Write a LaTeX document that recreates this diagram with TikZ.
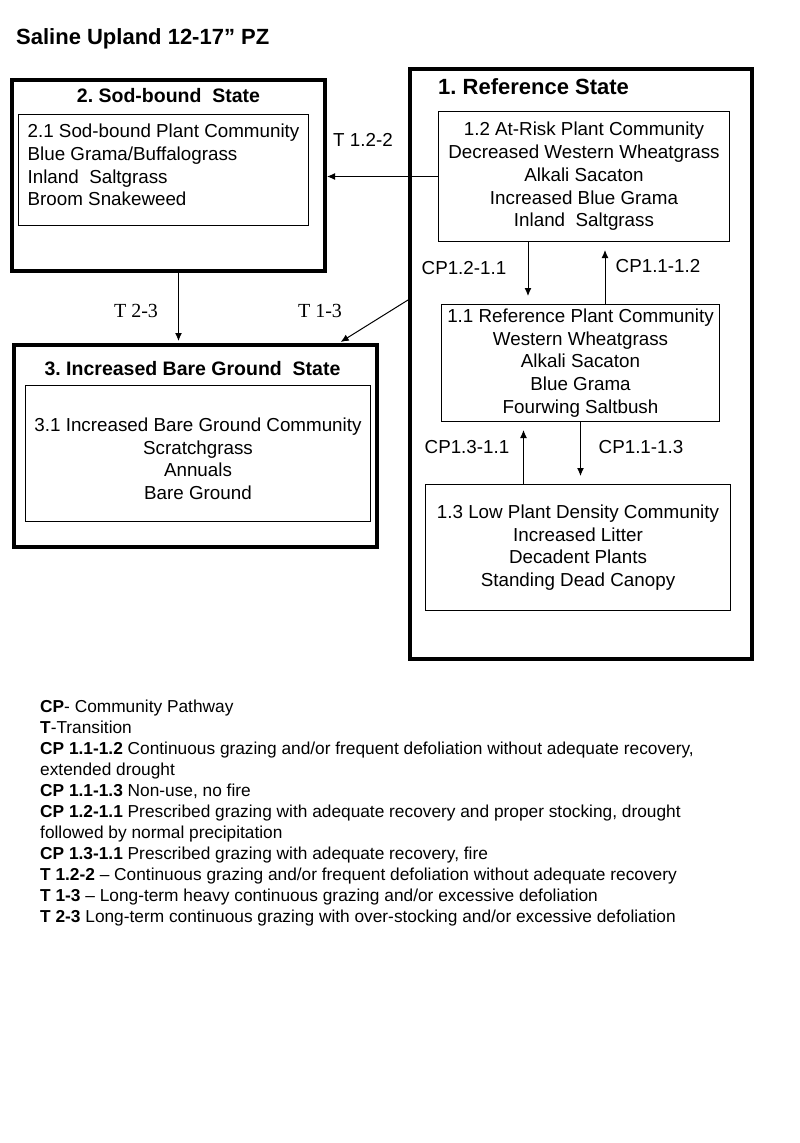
\documentclass[tikz,border=0pt]{standalone}
\usepackage{fontspec}
\setmainfont{Liberation Sans}
\newfontfamily\timesf{Liberation Serif}
\usetikzlibrary{arrows.meta,positioning}
\frenchspacing
\tikzset{statebox/.style={draw,line width=4pt,inner sep=0pt,anchor=north west},
  commbox/.style={draw,line width=1pt,inner sep=0pt,anchor=north west,align=center,font=\fontsize{18.8}{22.7}\selectfont},
  hd/.style={inner sep=0pt,font=\fontsize{19.5}{23}\selectfont\bfseries},
  lab/.style={inner sep=0pt,font=\fontsize{18.8}{22.7}\selectfont},
  tlab/.style={inner sep=0pt,font=\fontsize{20}{24}\timesf},
  arr/.style={-{Latex[length=8pt,width=7pt]},line width=1pt}}
\begin{document}
\begin{tikzpicture}[x=1pt,y=-1pt]
    \fill[white] (0,0) rectangle (800,1143);
    \useasboundingbox (0,0) rectangle (800,1143);
    \node[hd,anchor=base west,font=\fontsize{22}{26}\selectfont\bfseries] (ttl) at (16,44) {Saline Upland 12-17” PZ};
    \node[statebox,minimum width=313pt,minimum height=191pt] (s2) at (10,78) {};
    \node[statebox,minimum width=342pt,minimum height=590pt] (s1) at (408,67) {};
    \node[statebox,minimum width=363pt,minimum height=202pt] (s3) at (12,343) {};
    \node[hd,anchor=base] (s2t) at ([yshift=-24pt]s2.north) {2. Sod-bound\ \ State};
    \node[hd,anchor=base] (s3t) at ([xshift=-3pt,yshift=-32pt]s3.north) {3. Increased Bare Ground\ \ State};
    \node[commbox,minimum width=290pt,minimum height=111pt,align=left,text depth=10pt] (c21) at (18,114)
        {2.1 Sod-bound Plant Community\\Blue Grama/Buffalograss\\Inland\ \ Saltgrass\\Broom Snakeweed};
    \node[commbox,minimum width=291pt,minimum height=130pt] (c12) at (438,111)
        {1.2 At-Risk Plant Community\\Decreased Western Wheatgrass\\Alkali Sacaton\\Increased Blue Grama\\Inland\ \ Saltgrass};
    \node[hd,anchor=base west,font=\fontsize{22}{26}\selectfont\bfseries] (s1t) at ([yshift=17pt]c12.north west) {1. Reference State};
    \node[commbox,minimum width=278pt,minimum height=117pt] (c11) at (441,304)
        {1.1 Reference Plant Community\\Western Wheatgrass\\Alkali Sacaton\\Blue Grama\\Fourwing Saltbush};
    \node[commbox,minimum width=305pt,minimum height=126pt] (c13) at (425,484)
        {1.3 Low Plant Density Community\\Increased Litter\\Decadent Plants\\Standing Dead Canopy};
    \node[commbox,minimum width=345pt,minimum height=136pt,text height=92pt] (c31) at (25,385)
        {3.1 Increased Bare Ground Community\\Scratchgrass\\Annuals\\Bare Ground};
    \draw[arr] (c12.west) -- (c12.west -| s2.east);
    \draw[arr,shorten >=8pt] ([xshift=-56pt]c12.south) -- ([xshift=-56pt]c12.south |- c11.north);
    \draw[arr,shorten >=8pt] ([xshift=21pt]c12.south |- c11.north) -- ([xshift=21pt]c12.south);
    \draw[arr,shorten >=8pt] ([xshift=-57pt]c11.south |- c13.north) -- ([xshift=-57pt]c11.south);
    \draw[arr,shorten >=8pt] (c11.south) -- (c11.south |- c13.north);
    \draw[arr,shorten >=2pt] ([xshift=10pt]s2.south) -- ([xshift=10pt]s2.south |- s3.north);
    \draw[arr,shorten >=2pt] ([yshift=64pt]s1.west) -- ([xshift=-40pt]s3.north east);
    \node[lab] (l122) at (363,140) {T 1.2-2};
    \node[lab] (l1211) at (464,268) {CP1.2-1.1};
    \node[lab] (l1112) at (658,266) {CP1.1-1.2};
    \node[lab] (l1311) at (467,447) {CP1.3-1.1};
    \node[lab] (l1113) at (641,447) {CP1.1-1.3};
    \node[tlab] (l23) at (136,311) {T 2-3};
    \node[tlab] (l13) at (320,311) {T 1-3};
    \node[anchor=north west,inner sep=0pt,align=left,font=\fontsize{17.3}{21}\selectfont] (key) at (40,700)
        {\textbf{CP}- Community Pathway\\
         \textbf{T}-Transition\\
         \textbf{CP 1.1-1.2} Continuous grazing and/or frequent defoliation without adequate recovery,\\
         extended drought\\
         \textbf{CP 1.1-1.3} Non-use, no fire\\
         \textbf{CP 1.2-1.1} Prescribed grazing with adequate recovery and proper stocking, drought\\
         followed by normal precipitation\\
         \textbf{CP 1.3-1.1} Prescribed grazing with adequate recovery, fire\\
         \textbf{T 1.2-2} – Continuous grazing and/or frequent defoliation without adequate recovery\\
         \textbf{T 1-3} – Long-term heavy continuous grazing and/or excessive defoliation\\
         \textbf{T 2-3} Long-term continuous grazing with over-stocking and/or excessive defoliation};
\end{tikzpicture}
\end{document}
